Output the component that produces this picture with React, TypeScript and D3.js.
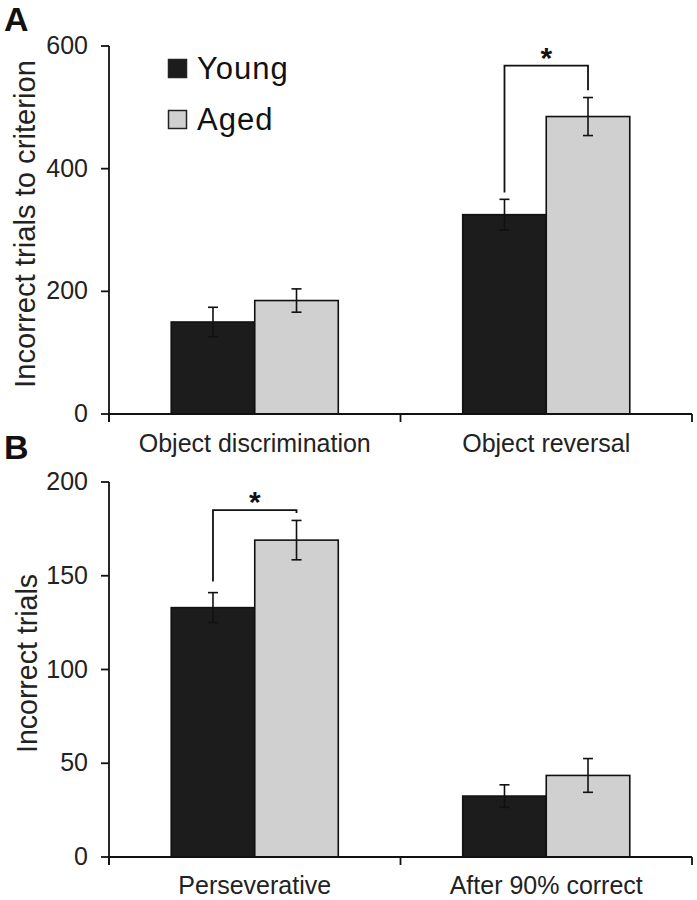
import React from 'react';
import * as d3 from 'd3';

const GROUPS = ['Young', 'Aged'] as const;
const GROUP_FILL: Record<string, string> = { Young: '#1c1c1c', Aged: '#d0d0d0' };

// panel A
const A_CATS = ['Object discrimination', 'Object reversal'];
const A_MEAN = { Young: [150, 325], Aged: [185, 485] };
const A_SEM = { Young: [24, 25], Aged: [19, 31] };
const A_TICKS = [0, 200, 400, 600];
// bracket: [left leg bottom, top, right leg bottom] in data units, category index
const A_BRACKET = { cat: 1, legs: [361, 568, 528] };

// panel B
const B_CATS = ['Perseverative', 'After 90% correct'];
const B_MEAN = { Young: [133, 32.5], Aged: [169, 43.5] };
const B_SEM = { Young: [8, 6], Aged: [10.5, 9] };
const B_TICKS = [0, 50, 100, 150, 200];
const B_BRACKET = { cat: 0, legs: [147, 185, 183.5] };

const FONT = '"Liberation Sans", Arial, Helvetica, sans-serif';

interface PanelProps {
  letter: string;
  letterY: number;
  cats: string[];
  mean: Record<string, number[]>;
  sem: Record<string, number[]>;
  ticks: number[];
  yMax: number;
  yTop: number;
  yBottom: number;
  yLabel: string;
  yLabelLen: number;
  yLabelX: number;
  catLabelY: number;
  bracket: { cat: number; legs: number[] };
  legend?: boolean;
}

const Panel: React.FC<PanelProps> = (p) => {
  const x0 = d3.scaleBand<string>().domain(p.cats).range([109, 692]).padding(0);
  const x1 = d3
    .scaleBand<string>()
    .domain([...GROUPS])
    .range([0, x0.bandwidth()])
    .paddingInner(0)
    .paddingOuter(0.745);
  const y = d3.scaleLinear().domain([0, p.yMax]).range([p.yBottom, p.yTop]);
  const cx = (cat: string, g: string) => (x0(cat) ?? 0) + (x1(g) ?? 0) + x1.bandwidth() / 2;

  const bc = p.cats[p.bracket.cat];
  const [l0, top, r0] = p.bracket.legs;
  const bl = cx(bc, 'Young');
  const br = cx(bc, 'Aged');

  return (
    <g fontFamily={FONT}>
      <text x={4} y={p.letterY} fontSize={34} fontWeight="bold" fill="#111">
        {p.letter}
      </text>

      {/* bars */}
      {p.cats.map((cat, i) =>
        GROUPS.map((g) => {
          const v = p.mean[g][i];
          const e = p.sem[g][i];
          const bx = (x0(cat) ?? 0) + (x1(g) ?? 0);
          const c = bx + x1.bandwidth() / 2;
          return (
            <g key={cat + g}>
              <rect
                x={bx}
                y={y(v)}
                width={x1.bandwidth()}
                height={y(0) - y(v)}
                fill={GROUP_FILL[g]}
                stroke="#111"
                strokeWidth={1.6}
              />
              <line x1={c} x2={c} y1={y(v + e)} y2={y(v - e)} stroke="#111" strokeWidth={1.6} />
              <line x1={c - 5} x2={c + 5} y1={y(v + e)} y2={y(v + e)} stroke="#111" strokeWidth={1.6} />
              <line x1={c - 5} x2={c + 5} y1={y(v - e)} y2={y(v - e)} stroke="#111" strokeWidth={1.6} />
            </g>
          );
        })
      )}

      {/* y axis */}
      <line x1={109} x2={109} y1={y(p.yMax)} y2={y(0) + 8} stroke="#111" strokeWidth={1.8} />
      {p.ticks.map((t) => (
        <g key={t}>
          <line x1={101} x2={109} y1={y(t)} y2={y(t)} stroke="#111" strokeWidth={1.8} />
          <text x={88} y={y(t) + 8} textAnchor="end" fontSize={25} fill="#222">
            {t}
          </text>
        </g>
      ))}

      {/* x axis */}
      <line x1={109} x2={692} y1={y(0)} y2={y(0)} stroke="#111" strokeWidth={1.8} />
      {[...p.cats.map((c) => x0(c) ?? 0), 692].map((t, i) => (
        <line key={i} x1={t} x2={t} y1={y(0)} y2={y(0) + 8} stroke="#111" strokeWidth={1.8} />
      ))}
      {p.cats.map((cat) => (
        <text
          key={cat}
          x={(x0(cat) ?? 0) + x0.bandwidth() / 2}
          y={p.catLabelY}
          textAnchor="middle"
          fontSize={25}
          fill="#222"
        >
          {cat}
        </text>
      ))}

      <text
        transform={`translate(${p.yLabelX},${(p.yTop + p.yBottom) / 2 - 6}) rotate(-90)`}
        textAnchor="middle"
        fontSize={29}
        fill="#222"
        textLength={p.yLabelLen}
        lengthAdjust="spacingAndGlyphs"
      >
        {p.yLabel}
      </text>

      {/* significance bracket */}
      <path
        d={`M${bl},${y(l0)}V${y(top)}H${br}V${y(r0)}`}
        fill="none"
        stroke="#111"
        strokeWidth={1.8}
      />
      <text x={(bl + br) / 2} y={y(top) + 2} textAnchor="middle" fontSize={30} fontWeight="bold" fill="#111">
        *
      </text>

      {p.legend &&
        GROUPS.map((g, i) => (
          <g key={g} transform={`translate(168, ${59 + i * 51})`}>
            <rect x={0.5} y={0.5} width={18} height={18} fill={GROUP_FILL[g]} stroke="#222" strokeWidth={1.5} />
            <text x={29} y={20} fontSize={31} letterSpacing={1} fill="#111">
              {g}
            </text>
          </g>
        ))}
    </g>
  );
};

const App: React.FC = () => (
  <svg width={697} height={900} style={{ position: 'absolute', left: 0, top: 0, background: '#fff' }}>
    <rect width={697} height={900} fill="#fff" />
    <Panel
      letter="A"
      letterY={31}
      cats={A_CATS}
      mean={A_MEAN}
      sem={A_SEM}
      ticks={A_TICKS}
      yMax={600}
      yTop={46}
      yBottom={414}
      yLabel="Incorrect trials to criterion"
      yLabelLen={328}
      yLabelX={35}
      catLabelY={452}
      bracket={A_BRACKET}
      legend
    />
    <Panel
      letter="B"
      letterY={459}
      cats={B_CATS}
      mean={B_MEAN}
      sem={B_SEM}
      ticks={B_TICKS}
      yMax={200}
      yTop={482}
      yBottom={857}
      yLabel="Incorrect trials"
      yLabelLen={179}
      yLabelX={37}
      catLabelY={894}
      bracket={B_BRACKET}
    />
  </svg>
);

export default App;
